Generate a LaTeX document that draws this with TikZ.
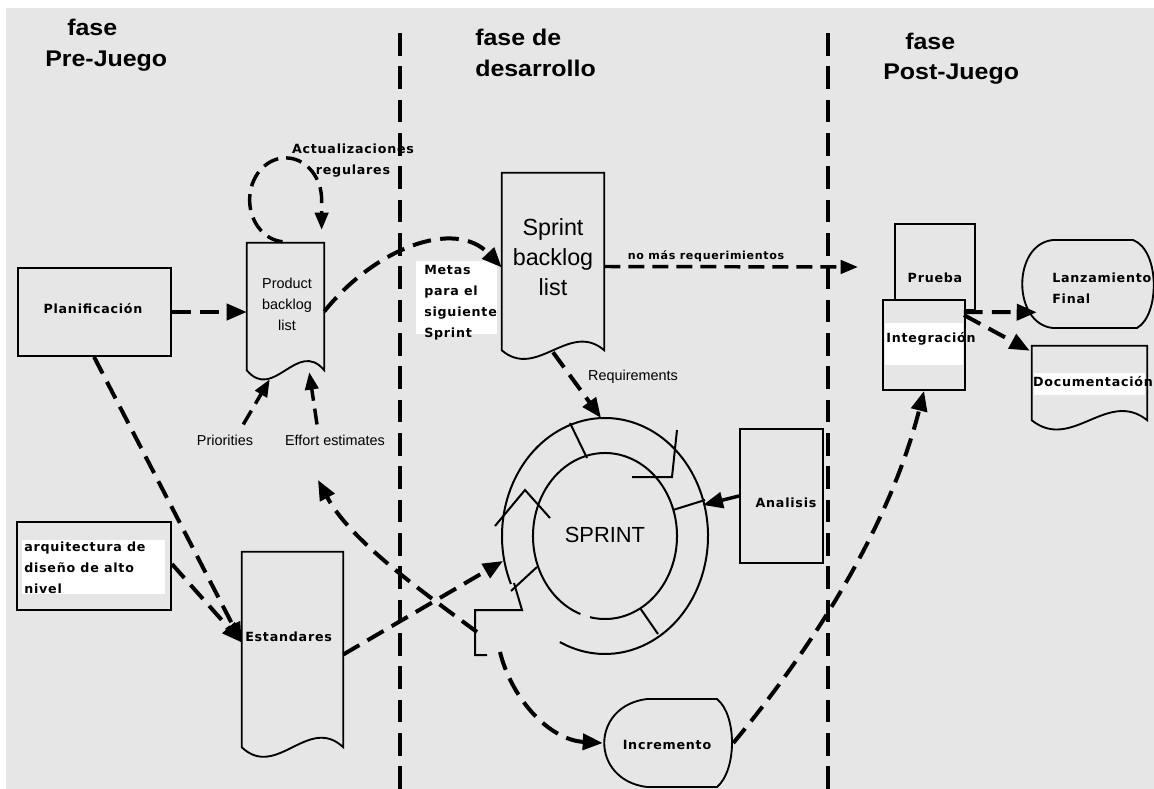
\documentclass[tikz,border=0pt]{standalone}
\usepackage{fontspec}
\setmainfont{Liberation Sans}
\newfontfamily\phasefont{Liberation Sans}[FakeStretch=1.1]
\newfontfamily\tagfont{DejaVu Sans}[LetterSpace=6]
\usetikzlibrary{arrows.meta,calc,fit}
\definecolor{paper}{HTML}{E6E6E6}
% rectangle with a wavy bottom edge, drawn round an existing node
\newcommand\docoutline[3]{%
  \draw[outline] (#1.south west) -- (#1.north west) -- (#1.north east) -- (#1.south east)
    .. controls +(-#2,-#3) and +(#2,#3) .. (#1.south west) -- cycle;}
\begin{document}
\begin{tikzpicture}[x=0.75pt, y=-0.75pt,
  phase/.style={font=\phasefont\bfseries\fontsize{17}{20}\selectfont, inner sep=0pt, anchor=base west},
  tag/.style={font=\tagfont\bfseries\fontsize{9.5}{15.75}\selectfont, inner sep=0pt},
  hand/.style={font=\fontsize{10.8}{15.75}\selectfont, inner sep=0pt},
  outline/.style={draw, line width=1.4pt, fill=paper},
  frame/.style={outline, inner sep=0pt},
  spot/.style={inner sep=0pt},
  band/.style={fill=white, inner sep=0pt},
  divider/.style={line width=2.4pt, dash pattern=on 17pt off 8pt},
  tip/.style={-{Triangle[length=15pt,width=12pt]}},
  flow/.style={tip, line width=3pt, dash pattern=on 14pt off 7pt},
  flowthin/.style={line width=2.6pt, dash pattern=on 12pt off 6pt, -{Triangle[length=13pt,width=10pt]}},
  ringline/.style={line width=1.5pt},
  solidflow/.style={tip, line width=2.6pt}]

\useasboundingbox (0,0) rectangle (1154,789);
\fill[white] (0,0) rectangle (1154,789);
\fill[paper] (6,8) rectangle (1154,789);

% phase separators
\draw[divider] (400,33) -- (400,789);
\draw[divider] (828,33) -- (828,789);

% phase titles
\node[phase] (pre1) at (67,35) {fase};
\node[phase] (pre2) at (45,66) {Pre-Juego};
\node[phase] (dev1) at (475,45) {fase de};
\node[phase] (dev2) at (475,76) {desarrollo};
\node[phase] (post1) at (905,49) {fase};
\node[phase] (post2) at (883,79) {Post-Juego};

% pre-game shapes
\node[frame, fit={(18,268)(171,356)}] (plan) {};
\node[spot, fit={(247,243)(324,370)}] (pbl) {};
\docoutline{pbl}{27}{32}
\node[frame, fit={(17,522)(171,610)}] (arq) {};
\node[band, fit={(22,540)(165,594)}] (arqband) {};
\node[spot, fit={(242,552)(343,747)}] (est) {};
\docoutline{est}{35}{33}

% development shapes
\node[spot, fit={(502,173)(604,350)}] (sbl) {};
\docoutline{sbl}{35}{30}
\node[band, fit={(416,261)(497,334)}] (metasband) {};
\node[frame, fit={(740,429)(823,563)}] (ana) {};
\node[spot, fit={(603,699)(733,787)}] (inc) {};
\draw[outline] (647,699) -- (717,699) .. controls (737,715) and (737,770) .. (717,787)
  -- (647,787) .. controls (590,780) and (590,706) .. cycle;

% post-game shapes
\node[frame, fit={(895,224)(975,310)}] (prueba) {};
\node[frame, fit={(883,300)(965,390)}] (integ) {};
\node[band, fit={(885,323)(963,365)}] (integband) {};
\node[spot, fit={(1025,240)(1153,328)}] (lanz) {};
\draw[outline] (1053,240) -- (1133,240) .. controls (1160,250) and (1160,315) .. (1137,328)
  -- (1053,328) .. controls (1012,324) and (1012,244) .. cycle;
\node[spot, fit={(1032,346)(1147,420)}] (doc) {};
\docoutline{doc}{40}{32}
\node[band, fit={(1034,373)(1145,395)}] (docband) {};

% sprint cycle
\coordinate (C) at (605,536);
\draw[ringline] (C) ++(156:103 and 118) arc[start angle=156, end angle=476, x radius=103, y radius=118];
\draw[ringline] (C) ++(110:72 and 83) arc[start angle=110, end angle=462, x radius=72, y radius=83];
\draw[ringline] (570,423) -- (587,458);
\draw[ringline] (673,510) -- (705,500);
\draw[ringline] (511,591) -- (537,567);
\draw[ringline] (640,608) -- (658,634);
\draw[ringline] (677,430) -- (672,477) -- (632,477);
\draw[ringline] (495,526) -- (525,490) -- (550,518);
\draw[ringline] (514,583) -- (522,610) -- (475,610) -- (475,655) -- (487,655);
\node[font=\fontsize{16.4}{18}\selectfont, inner sep=0pt] (sprint) at (605,535) {SPRINT};
\coordinate (ringN) at (601,418);
\coordinate (ringW) at (503,561);
\coordinate (ringE) at (703,505);
\coordinate (ringS) at (500,652);
\coordinate (notch) at (477,632);
\coordinate (feedback) at (318,480);
\coordinate (release) at (858,267);

% texts
\node[tag] (plan-t) at (93,309) {Planificación};
\node[hand, align=center] (pbl-t) at (287,304) {Product\\backlog\\list};
\node[tag, align=center] (upd) at (353,161) {Actualizaciones\\regulares};
\node[hand] (prio) at (225,440) {Priorities};
\node[hand] (eff) at (335,440) {Effort estimates};
\node[tag, align=left, anchor=west] (arq-t) at (24,568) {arquitectura de\\diseño de alto\\nivel};
\node[tag, anchor=west] (est-t) at (245,637) {Estandares};
\node[font=\fontsize{17.5}{22.5}\selectfont, align=center, inner sep=0pt] (sbl-t) at (553,257) {Sprint\\backlog\\list};
\node[tag, align=left, anchor=west] (metas) at (424,303) {Metas\\para el\\siguiente\\Sprint};
\node[tag, font=\tagfont\bfseries\fontsize{8.3}{10}\selectfont] (nomas) at (706,256) {no más requerimientos};
\node[hand] (req) at (633,377) {Requirements};
\node[tag] (ana-t) at (786,503) {Analisis};
\node[tag] (inc-t) at (667,745) {Incremento};
\node[tag] (prueba-t) at (935,278) {Prueba};
\node[tag] (integ-t) at (931,339) {Integración};
\node[tag, align=left, anchor=west] (lanz-t) at (1052,288) {Lanzamiento\\Final};
\node[tag] (doc-t) at (1093,382) {Documentación};

% connectors
\coordinate (loopstart) at ($(pbl.north)+(-3,-1)$);
\draw[flowthin] (loopstart) arc[start angle=95, end angle=360, x radius=36, y radius=42] -- ++(0,30);
\draw[flow] (plan.east) -- (plan.east -| pbl.west);
\draw[flow] ($(plan.south west)+(77,0)$) -- ($(est.west)+(0,-7)$);
\draw[flow] ($(arq.east)+(0,-2)$) -- ($(est.west)+(0,-7)$);
\draw[flowthin] ($(prio.north east)+(-10,-10)$) -- ($(pbl.south west)+(23,9)$);
\draw[flowthin] ($(eff.north)+(-18,-10)$) -- ($(pbl.south east)+(-15,2)$);
\draw[flow] ($(pbl.east)+(0,5)$) .. controls (375,248) and (455,218) .. ($(sbl.west)+(0,6)$);
\draw[flowthin] ($(sbl.east)+(0,5)$) -- (release);
\draw[flow] ($(sbl.south)+(0,2)$) -- (ringN);
\draw[flow] ($(est.east)+(0,5)$) -- (ringW);
\draw[solidflow] (ana.west) -- (ringE);
\draw[flow] (notch) .. controls (420,590) and (350,540) .. (feedback);
\draw[flow] (ringS) .. controls (512,700) and (550,740) .. (inc.west);
\draw[flow] (inc.east) .. controls (790,675) and (885,545) .. (integ.south);
\draw[flow] ($(integ.north east)+(-2,13)$) -- ($(lanz.south west)+(12,-16)$);
\draw[flow] ($(integ.north east)+(-2,16)$) -- ($(doc.north west)+(-2,5)$);
\end{tikzpicture}
\end{document}
